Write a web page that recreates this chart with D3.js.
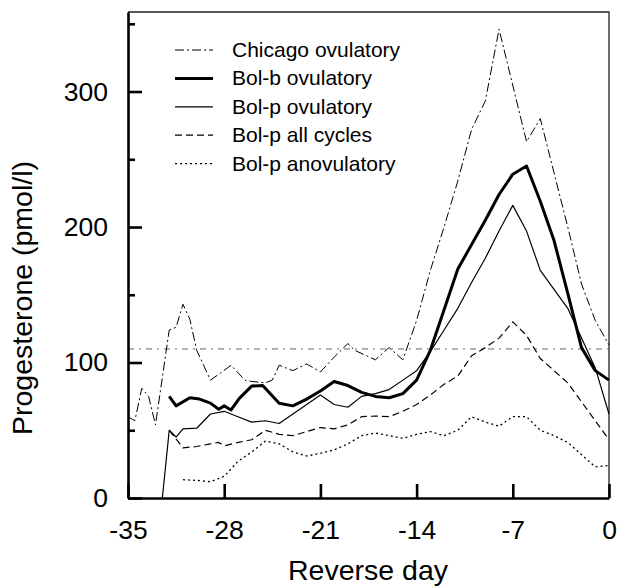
<!DOCTYPE html>
<html>
<head>
<meta charset="utf-8">
<script src="https://cdn.jsdelivr.net/npm/d3@7"></script>
<style>
    body { margin: 0; background: #fff; }
    svg text { font-family: "Liberation Sans", Arial, sans-serif; fill: #000; }
    .tickLabel { font-size: 26.5px; }
    .axisTitle { font-size: 28.5px; }
    .legendText { font-size: 21px; }
</style>
</head>
<body>
<svg id="chart" width="622" height="587"></svg>
<script>
// Data (reverse day, progesterone pmol/l).
var chicagoDays = [-35, -34.5, -34, -33.5, -33, -32, -31.5, -31, -30.5, -30, -29, -28.3, -27.5, -26.5, -26, -25, -24.5, -24, -23, -22, -21, -20, -19, -18.5, -17, -16, -15, -14, -13, -12, -11, -10, -9, -8, -6, -5, -4, -3, -2, -1, 0];
var chicagoValues = [60, 57, 81, 75, 54, 124, 126, 143, 132, 109, 87, 92, 98, 87, 86, 85, 87, 98, 94, 99, 93, 104, 114, 109, 102, 111, 102, 131, 168, 200, 234, 272, 293, 346, 263, 280, 240, 200, 158, 131, 113];

var bolbDays = [-32, -31.5, -30.5, -29.8, -29, -28.4, -28, -27.5, -26.9, -26, -25.2, -24, -23, -22, -21, -20, -19, -18, -17, -16, -15, -14, -13, -12, -11, -10, -9, -8, -7, -6, -5, -4, -3, -2, -1, 0];
var bolbValues = [75, 68, 74, 73, 70, 65.5, 68, 65, 73.5, 82.6, 83, 70, 68, 73, 79, 86, 83, 78, 75, 74, 77, 87, 109, 139, 169, 187, 205, 224, 239, 245, 219, 190, 151, 111, 94, 87];

var bolpDays = [-32.5, -32, -31.5, -31, -30, -29, -28, -27, -26, -25, -24, -23, -22, -21, -20, -19, -18, -17, -16, -15, -14, -13, -12, -11, -10, -9, -8, -7, -6, -5, -4, -3, -2, -1, 0];
var bolpValues = [0, 50, 45, 51, 51.5, 62, 64, 60, 56, 57, 55, 62, 69, 76, 69, 67, 75, 77, 80, 87, 94, 108, 124, 140, 159, 177, 197, 216, 197, 168, 154, 140, 118, 96, 62];

var allDays = [-32, -31, -30, -29, -28.4, -28, -27, -26, -25, -24, -23, -22, -21, -20, -19, -18, -17, -16, -15, -14, -13, -12, -11, -10, -9, -8, -7, -6, -5, -4, -3, -2, -1, 0];
var allValues = [50, 37, 38, 40, 41, 38.5, 41, 43, 50, 47, 46, 49, 52, 51, 54, 60, 60.5, 60, 64, 69, 76, 84, 90, 105, 111, 118, 130, 120, 103, 94, 85, 71, 57, 43];

var anovDays = [-31, -30, -29, -28, -27, -26, -25, -24, -23, -22, -21, -20, -19, -18, -17, -16, -15, -14, -13, -12, -11, -10, -9, -8, -7, -6, -5, -4, -3, -2, -1, 0];
var anovValues = [13.5, 13, 12, 16, 27, 34, 42, 40, 34, 31, 33, 35.5, 40, 46, 48, 46, 44, 47, 49, 46, 50, 60, 56, 53, 60, 60, 50, 46, 41, 32, 23, 24];

var referenceLevel = 110;

var xTickValues = [-35, -28, -21, -14, -7, 0];
var yMajorTicks = [0, 100, 200, 300];
var yMinorTicks = [50, 150, 250, 350];

var seriesNames = ['Chicago ovulatory', 'Bol-b ovulatory', 'Bol-p ovulatory', 'Bol-p all cycles', 'Bol-p anovulatory'];

(function () {
    var svg = d3.select('#chart'),
        plot = { left: 128, right: 609, top: 12, bottom: 498 },
        x = d3.scaleLinear().domain([-35, 0]).range([plot.left, plot.right]),
        y = d3.scaleLinear().domain([0, 358.7]).range([plot.bottom, plot.top]),
        styles = [
            { width: 1, dash: '9,3,2,3' },   // Chicago, dash-dot
            { width: 3, dash: null },        // Bol-b, thick
            { width: 1.2, dash: null },      // Bol-p ovulatory, thin
            { width: 1.2, dash: '7,4' },     // all cycles, dashed
            { width: 1.3, dash: '2,3' }      // anovulatory, dotted
        ],
        series = [
            [chicagoDays, chicagoValues],
            [bolbDays, bolbValues],
            [bolpDays, bolpValues],
            [allDays, allValues],
            [anovDays, anovValues]
        ],
        line = d3.line().x(d => x(d[0])).y(d => y(d[1]));

    // Frame: thin top and right border.
    svg.append('path')
        .attr('d', 'M' + plot.left + ',' + plot.top + 'H' + plot.right + 'V' + plot.bottom)
        .attr('fill', 'none')
        .attr('stroke', '#222')
        .attr('stroke-width', 1.3);

    // Reference line.
    svg.append('line')
        .attr('x1', x(-35)).attr('x2', x(0))
        .attr('y1', y(referenceLevel)).attr('y2', y(referenceLevel))
        .attr('stroke', '#555')
        .attr('stroke-width', 0.9)
        .attr('stroke-dasharray', '6,5,2,5');

    // Series lines.
    series.forEach(function (s, i) {
        var pts = s[0].map((d, j) => [d, s[1][j]]);
        svg.append('path')
            .datum(pts)
            .attr('d', line)
            .attr('fill', 'none')
            .attr('stroke', '#000')
            .attr('stroke-width', styles[i].width)
            .attr('stroke-linejoin', 'round')
            .attr('stroke-dasharray', styles[i].dash);
    });

    // Y axis, major ticks with labels, minor ticks without.
    var yAxisG = svg.append('g')
        .attr('transform', 'translate(' + plot.left + ',0)')
        .call(d3.axisLeft(y).tickValues(yMajorTicks).tickFormat(d => String(d))
            .tickSizeInner(-14).tickSizeOuter(0).tickPadding(20));
    svg.append('g')
        .attr('transform', 'translate(' + plot.left + ',0)')
        .call(d3.axisLeft(y).tickValues(yMinorTicks).tickSizeInner(-7).tickSizeOuter(0).tickFormat(''))
        .select('.domain').remove();

    // X axis, plain hyphen for the minus sign as in the original.
    var xAxisG = svg.append('g')
        .attr('transform', 'translate(0,' + plot.bottom + ')')
        .call(d3.axisBottom(x).tickValues(xTickValues).tickFormat(d => String(d))
            .tickSizeInner(-14).tickSizeOuter(0).tickPadding(22));

    svg.selectAll('.domain, .tick line')
        .attr('stroke', '#000')
        .attr('stroke-width', 2.6);
    svg.selectAll('.tick text')
        .attr('class', 'tickLabel');
    yAxisG.attr('font-size', null).attr('font-family', null);
    xAxisG.attr('font-size', null).attr('font-family', null);

    // Axis titles.
    svg.append('text')
        .attr('class', 'axisTitle')
        .attr('text-anchor', 'middle')
        .attr('transform', 'translate(32,298) rotate(-90)')
        .text('Progesterone (pmol/l)');
    svg.append('text')
        .attr('class', 'axisTitle')
        .attr('text-anchor', 'middle')
        .attr('x', 368)
        .attr('y', 580)
        .text('Reverse day');

    // Legend.
    var legend = svg.append('g').attr('transform', 'translate(175,57)');
    seriesNames.forEach(function (name, i) {
        var row = legend.append('g').attr('transform', 'translate(0,' + (i * 28.4) + ')');
        row.append('line')
            .attr('x1', 0).attr('x2', 38)
            .attr('y1', -7).attr('y2', -7)
            .attr('stroke', '#000')
            .attr('stroke-width', styles[i].width)
            .attr('stroke-dasharray', styles[i].dash);
        row.append('text')
            .attr('class', 'legendText')
            .attr('x', 57)
            .text(name);
    });
})();
</script>
</body>
</html>
